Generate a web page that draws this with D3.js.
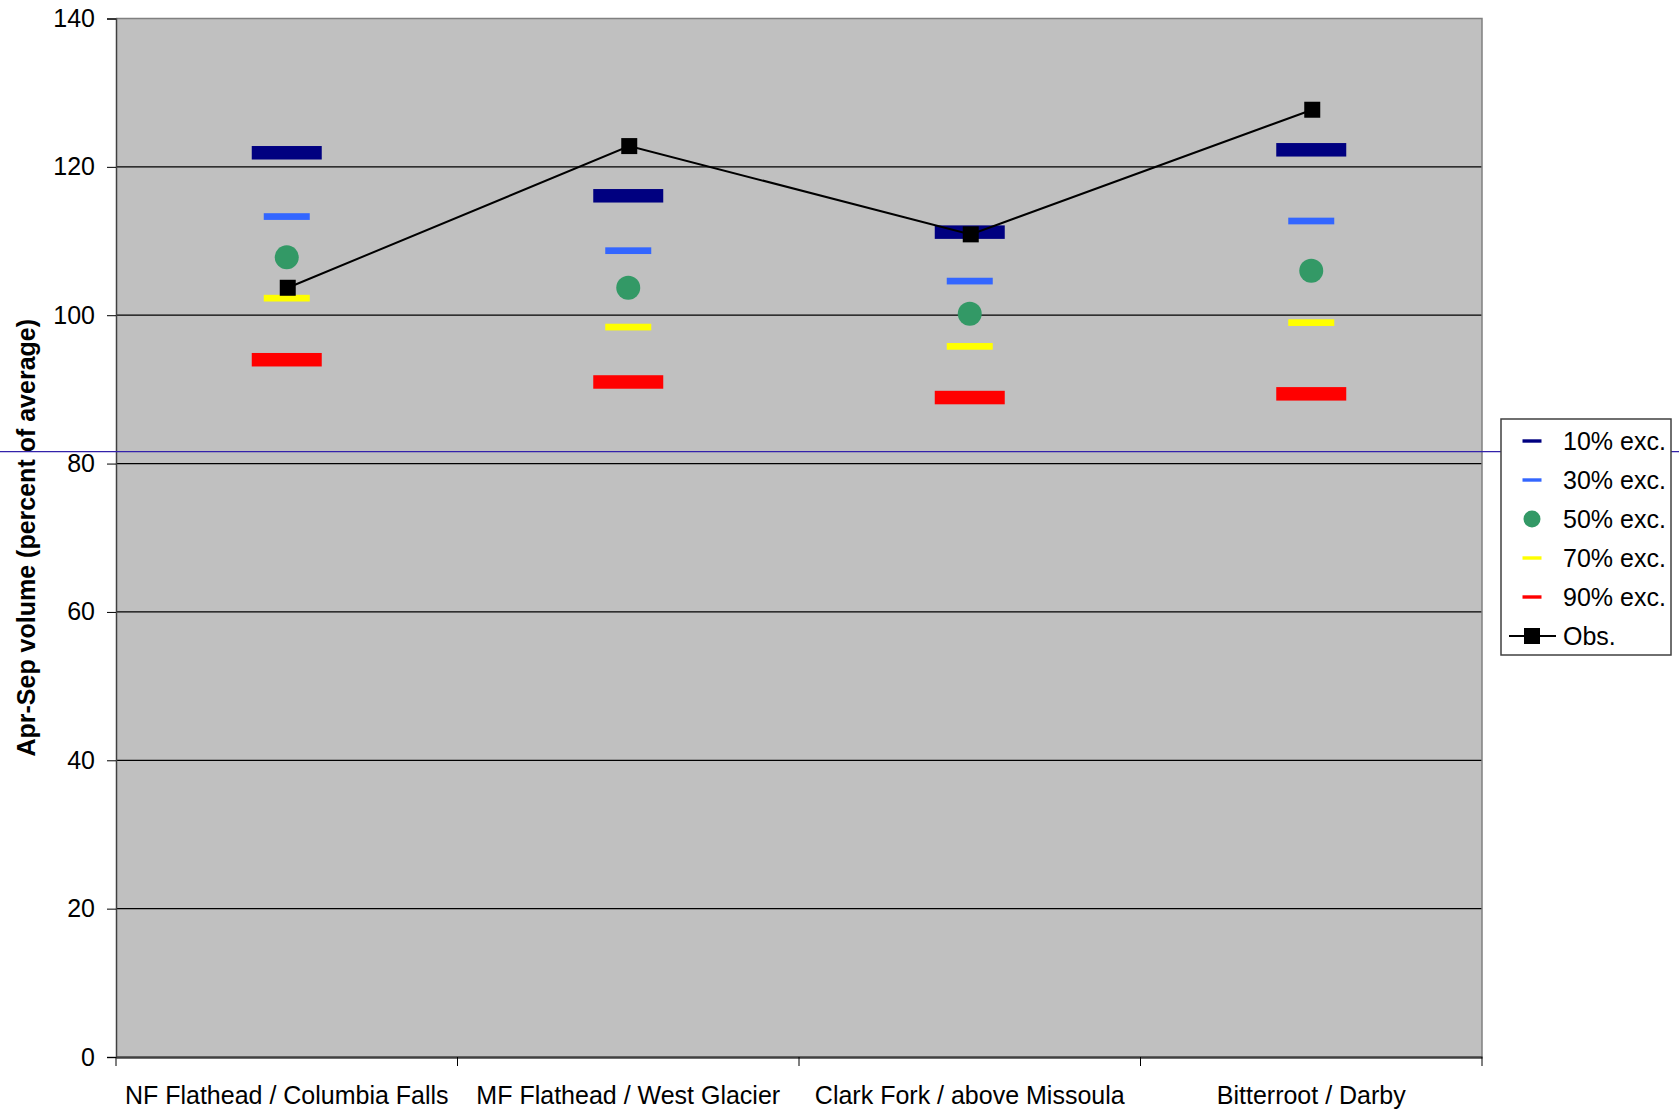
<!DOCTYPE html>
<html>
<head>
<meta charset="utf-8">
<script src="https://cdn.jsdelivr.net/npm/d3@7"></script>
<style>
  html, body { margin: 0; padding: 0; background: #fff; }
  svg { display: block; font-family: "Liberation Sans", Arial, sans-serif; }
</style>
</head>
<body>
<div id="chart"></div>
<script>
// data
const categories = ["NF Flathead / Columbia Falls", "MF Flathead / West Glacier", "Clark Fork / above Missoula", "Bitterroot / Darby"];
const exc10 = [121.9, 116.1, 111.2, 122.3];
const exc30 = [113.3, 108.7, 104.6, 112.7];
const exc50 = [107.8, 103.7, 100.2, 106.0];
const exc70 = [102.3, 98.4, 95.8, 99.0];
const exc90 = [94.0, 91.0, 88.9, 89.4];
const observed = [103.7, 122.8, 110.9, 127.7];
const yTicks = [0, 20, 40, 60, 80, 100, 120, 140];
const legendLabels = ["10% exc.", "30% exc.", "50% exc.", "70% exc.", "90% exc.", "Obs."];
const strayLineValue = 81.6;

const W = 1679, H = 1119;
const plot = { left: 116, right: 1482, top: 18.5, bottom: 1057 };

const svg = d3.select('#chart').append('svg')
  .attr('width', W)
  .attr('height', H);

const x = d3.scaleBand()
  .domain(categories)
  .range([plot.left, plot.right]);

const y = d3.scaleLinear()
  .domain([0, 140])
  .range([plot.bottom, plot.top]);

const cx = d => x(d) + x.bandwidth() / 2;

// plot area
svg.append('rect')
  .attr('x', plot.left).attr('y', plot.top)
  .attr('width', plot.right - plot.left)
  .attr('height', plot.bottom - plot.top)
  .attr('fill', '#c0c0c0');

// gridlines
svg.append('g')
  .selectAll('line')
  .data(yTicks.filter(t => t > 0 && t < 140))
  .join('line')
  .attr('x1', plot.left).attr('x2', plot.right)
  .attr('y1', d => y(d)).attr('y2', d => y(d))
  .attr('stroke', '#000').attr('stroke-width', 1.2);

// top + right border
svg.append('path')
  .attr('d', `M${plot.left},${plot.top}H${plot.right}V${plot.bottom}`)
  .attr('fill', 'none').attr('stroke', '#808080').attr('stroke-width', 1.5);

// y axis
const yAxis = svg.append('g')
  .attr('transform', `translate(${plot.left},0)`)
  .call(d3.axisLeft(y).tickValues(yTicks).tickSize(9).tickPadding(12).tickFormat(d3.format('d')));
yAxis.select('.domain').attr('stroke', '#404040').attr('stroke-width', 1.5);
yAxis.selectAll('.tick line').attr('stroke', '#000');
yAxis.selectAll('text').attr('font-size', 25).attr('fill', '#000')
  .attr('font-family', '"Liberation Sans", Arial, sans-serif');

// x axis: labels at centers, ticks at band boundaries
const xAxis = svg.append('g')
  .attr('transform', `translate(0,${plot.bottom})`)
  .call(d3.axisBottom(x).tickSize(0).tickPadding(29));
xAxis.select('.domain').attr('stroke', '#404040').attr('stroke-width', 2.5);
xAxis.selectAll('text').attr('font-size', 25).attr('fill', '#000')
  .attr('font-family', '"Liberation Sans", Arial, sans-serif');

const bounds = categories.map(c => x(c)).concat([x(categories[categories.length - 1]) + x.bandwidth()]);
svg.append('g')
  .selectAll('line')
  .data(bounds)
  .join('line')
  .attr('x1', d => d).attr('x2', d => d)
  .attr('y1', plot.bottom).attr('y2', plot.bottom + 9)
  .attr('stroke', '#000').attr('stroke-width', 1);

// y title
svg.append('text')
  .attr('transform', `translate(26,${(plot.top + plot.bottom) / 2}) rotate(-90)`)
  .attr('text-anchor', 'middle')
  .attr('dominant-baseline', 'central')
  .attr('font-size', 25)
  .attr('font-weight', 'bold')
  .text('Apr-Sep volume (percent of average)');

// dash series
const dashSeries = [
  { vals: exc10, color: '#000080', w: 70, h: 13.5 },
  { vals: exc30, color: '#3366ff', w: 46, h: 6.7 },
  { vals: exc70, color: '#ffff00', w: 46, h: 6.7 },
  { vals: exc90, color: '#ff0000', w: 70, h: 13.5 }
];
dashSeries.forEach(s => {
  svg.append('g')
    .selectAll('rect')
    .data(categories)
    .join('rect')
    .attr('x', (d) => cx(d) - s.w / 2)
    .attr('y', (d, i) => y(s.vals[i]) - s.h / 2)
    .attr('width', s.w)
    .attr('height', s.h)
    .attr('fill', s.color);
});

// 50% circles
svg.append('g')
  .selectAll('circle')
  .data(categories)
  .join('circle')
  .attr('cx', d => cx(d))
  .attr('cy', (d, i) => y(exc50[i]))
  .attr('r', 12)
  .attr('fill', '#339966');

// observed line
const line = d3.line().x(d => d[0]).y(d => d[1]);
svg.append('path')
  .datum(categories.map((c, i) => [cx(c) + 1, y(observed[i])]))
  .attr('d', line)
  .attr('fill', 'none')
  .attr('stroke', '#000')
  .attr('stroke-width', 2);
svg.append('g')
  .selectAll('rect')
  .data(categories)
  .join('rect')
  .attr('x', d => cx(d) + 1 - 8)
  .attr('y', (d, i) => y(observed[i]) - 8)
  .attr('width', 16).attr('height', 16)
  .attr('fill', '#000');

// stray horizontal line across the picture
svg.append('line')
  .attr('x1', 0).attr('x2', W)
  .attr('y1', y(strayLineValue)).attr('y2', y(strayLineValue))
  .attr('stroke', '#3322aa').attr('stroke-width', 1.2);

// legend
const lg = svg.append('g').attr('transform', 'translate(1501,419)');
lg.append('rect')
  .attr('x', 0).attr('y', 0).attr('width', 170).attr('height', 236)
  .attr('fill', '#fff').attr('stroke', '#404040').attr('stroke-width', 1.5);

const rowY = i => 22 + i * 39;
const symX = 31;
const legendColors = ['#000080', '#3366ff', '#339966', '#ffff00', '#ff0000', '#000'];

legendLabels.forEach((lab, i) => {
  const g = lg.append('g').attr('transform', `translate(0,${rowY(i)})`);
  if (i === 2) {
    g.append('circle').attr('cx', symX).attr('cy', 0).attr('r', 8.5).attr('fill', legendColors[i]);
  } else if (i === 5) {
    g.append('line').attr('x1', 8).attr('x2', 55).attr('y1', 0).attr('y2', 0)
      .attr('stroke', '#000').attr('stroke-width', 2);
    g.append('rect').attr('x', symX - 8).attr('y', -8).attr('width', 16).attr('height', 16).attr('fill', '#000');
  } else {
    g.append('rect').attr('x', symX - 9.5).attr('y', -1.7).attr('width', 19).attr('height', 3.4)
      .attr('fill', legendColors[i]);
  }
  g.append('text')
    .attr('x', 62).attr('y', 0)
    .attr('dominant-baseline', 'central')
    .attr('font-size', 25)
    .text(lab);
});
</script>
</body>
</html>
